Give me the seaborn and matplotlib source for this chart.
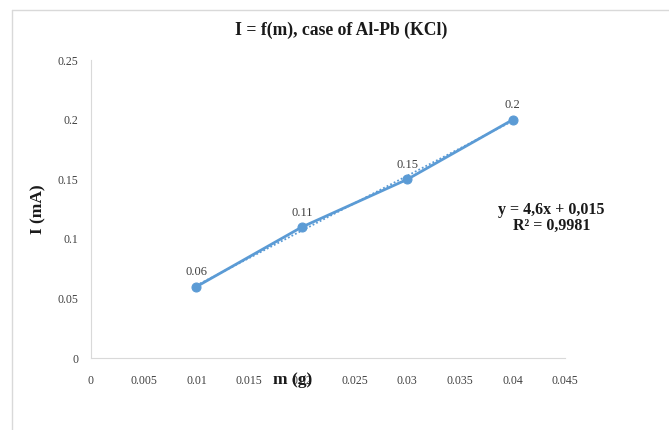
import matplotlib
matplotlib.use("Agg")
from matplotlib import pyplot as plt
from matplotlib.lines import Line2D
import pandas as pd
import seaborn as sns

# data
mass = [0.01, 0.02, 0.03, 0.04]
current = [0.06, 0.11, 0.15, 0.2]
slope = 4.6
intercept = 0.015
fit_label = "y = 4,6x + 0,015\nR² = 0,9981"

x_ticks = [0, 0.005, 0.01, 0.015, 0.02, 0.025, 0.03, 0.035, 0.04, 0.045]
y_ticks = [0, 0.05, 0.1, 0.15, 0.2, 0.25]

df = pd.DataFrame({"m": mass, "I": current})
df["fit"] = slope * df["m"] + intercept

sns.set_style("white")
plt.rcParams["font.family"] = ["Liberation Serif", "DejaVu Serif"]

blue = "#5B9BD5"

fig = plt.figure(figsize=(6.69, 4.30), dpi=100)
ax = fig.add_axes([0.136, 0.167, 0.709, 0.693])

sns.lineplot(data=df, x="m", y="fit", ax=ax, color=blue, lw=1.3,
             linestyle=(0, (1, 1.2)))
sns.lineplot(data=df, x="m", y="I", ax=ax, color=blue, lw=2,
             marker="o", markersize=6.5, markeredgecolor=blue)

for xv, yv in zip(mass, current):
    ax.annotate(f"{yv:g}", (xv, yv), xytext=(0, 6), textcoords="offset points",
                ha="center", va="bottom", fontsize=9, color="#404040")

ax.text(0.0437, 0.118, fit_label, ha="center", va="center", fontsize=11.5,
        fontweight="bold", color="#1a1a1a", linespacing=1.0)

ax.set_xlim(0, 0.045)
ax.set_ylim(0, 0.25)
ax.set_xticks(x_ticks)
ax.set_xticklabels([f"{v:g}" for v in x_ticks])
ax.set_yticks(y_ticks)
ax.set_yticklabels([f"{v:g}" for v in y_ticks])
ax.tick_params(length=0, labelsize=8.5, colors="#404040")
ax.tick_params(axis="x", pad=12)
ax.tick_params(axis="y", pad=9)

for side in ["top", "right"]:
    ax.spines[side].set_visible(False)
for side in ["left", "bottom"]:
    ax.spines[side].set_color("#d9d9d9")
    ax.spines[side].set_linewidth(0.8)

ax.set_xlabel("m (g)", fontsize=12.5, fontweight="bold", color="#1a1a1a")
ax.xaxis.set_label_coords(0.426, -0.048)
ax.set_ylabel("I (mA)", fontsize=12.5, fontweight="bold", color="#1a1a1a")
ax.yaxis.set_label_coords(-0.093, 0.5)

fig.suptitle("I = f(m), case of Al-Pb (KCl)", x=0.51, y=0.95, fontsize=12.7,
             fontweight="bold", color="#1a1a1a")

# frame lines of the chart area
fig.add_artist(Line2D([12 / 669, 1], [1 - 10 / 430, 1 - 10 / 430],
                      transform=fig.transFigure, color="#d9d9d9", lw=1))
fig.add_artist(Line2D([12 / 669, 12 / 669], [0, 1 - 10 / 430],
                      transform=fig.transFigure, color="#d9d9d9", lw=1))

fig.savefig("out.png", dpi=100)
